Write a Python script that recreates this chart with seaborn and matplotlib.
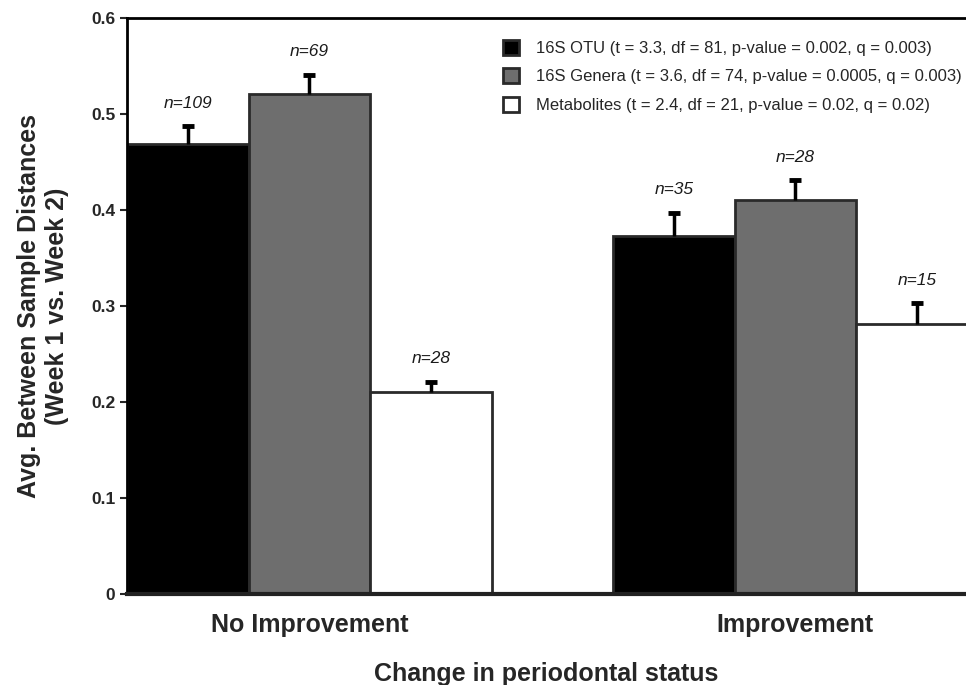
import seaborn as sns
import matplotlib.pyplot as plt
import pandas as pd

# values
status = ["No Improvement", "Improvement"]
datasets = ["16S OTU (t = 3.3, df = 81, p-value = 0.002, q = 0.003)",
            "16S Genera (t = 3.6, df = 74, p-value = 0.0005, q = 0.003)",
            "Metabolites (t = 2.4, df = 21, p-value = 0.02, q = 0.02)"]
means = {datasets[0]: [0.469, 0.373],
         datasets[1]: [0.521, 0.410],
         datasets[2]: [0.210, 0.281]}
sems = {datasets[0]: [0.018, 0.024],
        datasets[1]: [0.020, 0.021],
        datasets[2]: [0.011, 0.022]}
counts = {datasets[0]: [109, 35],
          datasets[1]: [69, 28],
          datasets[2]: [28, 15]}
colors = ["#000000", "#6e6e6e", "#ffffff"]

rows = []
for d in datasets:
    for k, s in enumerate(status):
        rows.append({"status": s, "dataset": d, "value": means[d][k]})
df = pd.DataFrame(rows)

sns.set_style("white")
plt.rcParams["font.family"] = ["Liberation Sans", "DejaVu Sans"]

fig = plt.figure(figsize=(9.66, 6.85), dpi=100)
ax = fig.add_axes([127/966, 1-594/685, 1-127/966, (594-18)/685])

sns.barplot(data=df, x="status", y="value", hue="dataset", order=status,
            hue_order=datasets, palette=colors, width=0.75, errorbar=None,
            edgecolor="#2a2a2a", linewidth=2, saturation=1, ax=ax)

# upper-only error bars and n labels
for d, cont in zip(datasets, ax.containers):
    for k, bar in enumerate(cont):
        xc = bar.get_x() + bar.get_width()/2
        top = bar.get_height()
        ax.errorbar(xc, top, yerr=[[0], [sems[d][k]]], fmt="none",
                    ecolor="black", elinewidth=2.5, capsize=0)
        ax.plot(xc, top + sems[d][k], marker="_", ms=8, mew=3.5,
                color="black")
        ax.annotate("n=%d" % counts[d][k], (xc, top + sems[d][k]),
                    xytext=(0, 16.5), textcoords="offset points",
                    ha="center", va="center", fontsize=12.5, style="italic",
                    color="#1a1a1a")

ax.set_ylim(0, 0.6)
ax.set_xlim(-0.375, 1.351)
ax.set_yticks([0, 0.1, 0.2, 0.3, 0.4, 0.5, 0.6])
ax.set_yticklabels(["0", "0.1", "0.2", "0.3", "0.4", "0.5", "0.6"],
                   fontsize=12.5, fontweight="bold")
ax.tick_params(axis="y", left=True, length=5, width=1.5, direction="out")
ax.tick_params(axis="x", bottom=False, pad=10)
for lab in ax.get_xticklabels():
    lab.set_fontsize(18)
    lab.set_fontweight("bold")

ax.set_ylabel("Avg. Between Sample Distances\n(Week 1 vs. Week 2)",
              fontsize=18, fontweight="bold", labelpad=16)
ax.set_xlabel("Change in periodontal status", fontsize=18, fontweight="bold",
              labelpad=18.5)

for side in ["left", "top", "bottom"]:
    ax.spines[side].set_visible(True)
    ax.spines[side].set_color("black")
    ax.spines[side].set_linewidth(2)
ax.spines["bottom"].set_linewidth(3)
ax.spines["bottom"].set_color("#222222")
ax.spines["right"].set_visible(False)

handles, labels = ax.get_legend_handles_labels()
ax.legend(handles, labels, loc="upper right", bbox_to_anchor=(1.003, 0.974),
          frameon=False, fontsize=12, handlelength=1.0, handleheight=1.0,
          handletextpad=1.0, labelspacing=0.75, borderaxespad=0.0)

plt.savefig("out.png", dpi=100)
